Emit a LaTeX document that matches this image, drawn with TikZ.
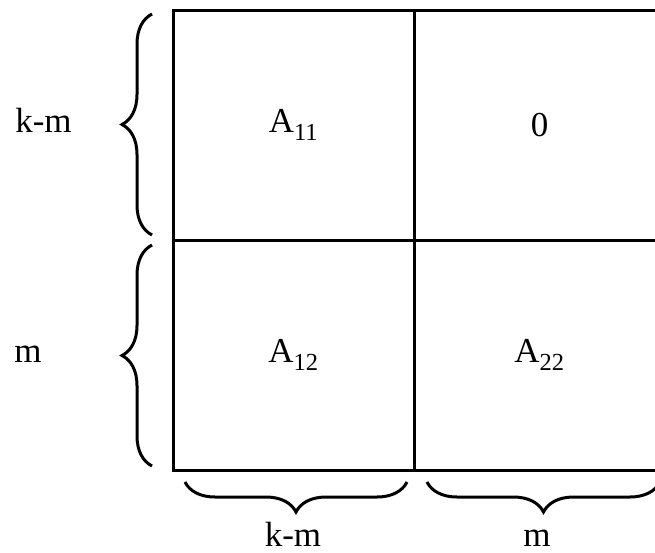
\documentclass[tikz,border=0pt]{standalone}
\usepackage{fontspec}
\setmainfont{Liberation Serif}
\usetikzlibrary{positioning,decorations.pathreplacing}
\begin{document}
\begin{tikzpicture}[
  x=1pt, y=1pt,
  font=\fontsize{35}{42}\selectfont,
  cell/.style={rectangle, draw, line width=3pt, outer sep=0pt, inner sep=0pt,
               minimum width=241pt, minimum height=230pt},
  wide/.style={cell, minimum width=251pt},
  brc/.style={decorate, decoration={brace, amplitude=30pt}, line width=3pt},
  lbl/.style={inner sep=0pt, anchor=base},
]
\useasboundingbox (0,0) rectangle (655,-552);

% the four blocks
\node[cell] (a11) at (293.5,-125) {A\textsubscript{11}};
\node[wide, right=0pt of a11] (z) {0};
\node[cell, below=0pt of a11] (a12) {A\textsubscript{12}};
\node[wide, right=0pt of a12] (a22) {A\textsubscript{22}};

% row braces
\draw[brc] ([xshift=-21pt,yshift=5pt]a11.south west) -- ([xshift=-21pt,yshift=-4pt]a11.north west);
\draw[brc] ([xshift=-21pt,yshift=4pt]a12.south west) -- ([xshift=-21pt,yshift=-5pt]a12.north west);

% column braces
\draw[brc] ([xshift=-7pt,yshift=-12pt]a12.south east) -- ([xshift=12pt,yshift=-12pt]a12.south west);
\draw[brc] ([xshift=-5pt,yshift=-12pt]a22.south east) -- ([xshift=13pt,yshift=-12pt]a22.south west);

% sizes
\node[lbl] (r1) at (43.5,-132) {k-m};
\node[lbl] (r2) at (28,-362) {m};
\node[lbl] (c1) at (293,-546) {k-m};
\node[lbl] (c2) at (537,-546) {m};

\end{tikzpicture}
\end{document}
